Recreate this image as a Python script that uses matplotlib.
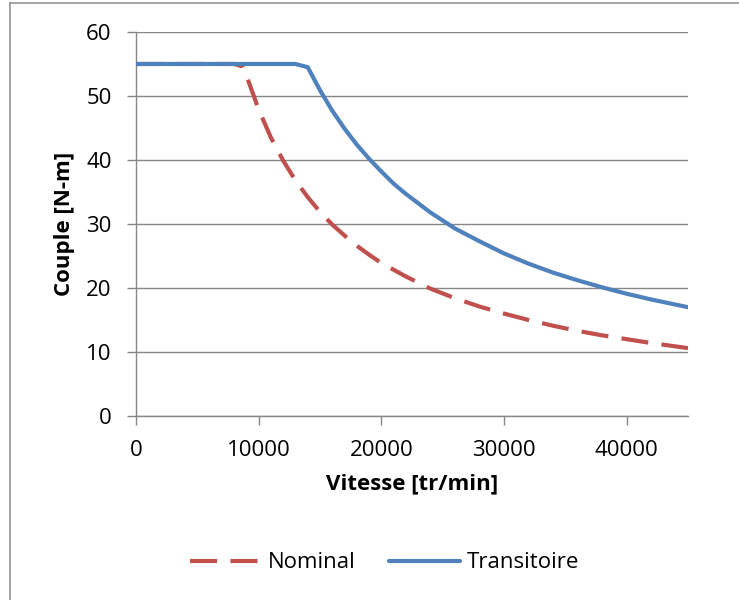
import matplotlib.pyplot as plt
from matplotlib.lines import Line2D

# Données
vitesse_nom = [0, 4000, 8000, 8700, 9000, 10000, 11000, 12000, 13000, 14000, 15000,
               16000, 17000, 18000, 19000, 20000, 22000, 24000, 26000, 28000,
               30000, 32000, 34000, 36000, 38000, 40000, 42000, 45000]
couple_nom = [55, 55, 55, 54.6, 53.2, 47.9, 43.5, 39.9, 36.8, 34.2, 31.9,
              29.9, 28.2, 26.6, 25.2, 23.9, 21.8, 19.9, 18.4, 17.1,
              16.0, 15.0, 14.1, 13.3, 12.6, 12.0, 11.4, 10.6]

vitesse_tr = [0, 4000, 8000, 13000, 14000, 15000, 16000, 17000, 18000, 19000,
              20000, 21000, 22000, 24000, 26000, 28000, 30000, 32000, 34000,
              36000, 38000, 40000, 42000, 45000]
couple_tr = [55, 55, 55, 55, 54.5, 50.9, 47.7, 44.9, 42.4, 40.2,
             38.2, 36.3, 34.7, 31.8, 29.3, 27.3, 25.4, 23.8, 22.4,
             21.2, 20.1, 19.1, 18.2, 17.0]

plt.rcParams['font.family'] = ['Open Sans', 'DejaVu Sans']

fig = plt.figure(figsize=(7.39, 6), dpi=100)
# cadre gris (gauche et haut visibles)
x0, y0 = 9.5 / 739, 1 - 2.5 / 600
fig.add_artist(Line2D([x0, x0], [0, y0], transform=fig.transFigure,
                      color='#8c8c8c', linewidth=1.1))
fig.add_artist(Line2D([x0, 1], [y0, y0], transform=fig.transFigure,
                      color='#8c8c8c', linewidth=1.1))

ax = fig.add_axes([0.184, 0.3067, 0.747, 0.64])

gris = '#868686'
ax.plot(vitesse_nom, couple_nom, color='#C0504D', linewidth=3, dashes=(6.5, 3.2),
        label='Nominal', zorder=3)
ax.plot(vitesse_tr, couple_tr, color='#4F81BD', linewidth=3, label='Transitoire',
        zorder=4, solid_capstyle='round', solid_joinstyle='round')

ax.set_xlim(0, 45000)
ax.set_ylim(0, 60)
ax.set_xticks([0, 10000, 20000, 30000, 40000])
ax.set_yticks(range(0, 61, 10))
ax.yaxis.grid(True, color=gris, linewidth=1)
ax.set_axisbelow(True)

for s in ['top', 'right']:
    ax.spines[s].set_visible(False)
for s in ['left', 'bottom']:
    ax.spines[s].set_color(gris)
    ax.spines[s].set_linewidth(1)
ax.tick_params(axis='both', colors=gris, length=6.5, width=1, labelsize=16,
               labelcolor='black')
ax.tick_params(axis='x', pad=11)
ax.tick_params(axis='y', pad=11)

ax.set_xlabel('Vitesse [tr/min]', fontsize=16, fontweight='bold', labelpad=9)
ax.set_ylabel('Couple [N-m]', fontsize=16, fontweight='bold', labelpad=8)

fig.legend(loc='center', bbox_to_anchor=(0.52, 0.0617), ncol=2, frameon=False,
           fontsize=16, handlelength=3.2, handletextpad=0.3, columnspacing=1.5)

fig.savefig('out.png', dpi=100)
